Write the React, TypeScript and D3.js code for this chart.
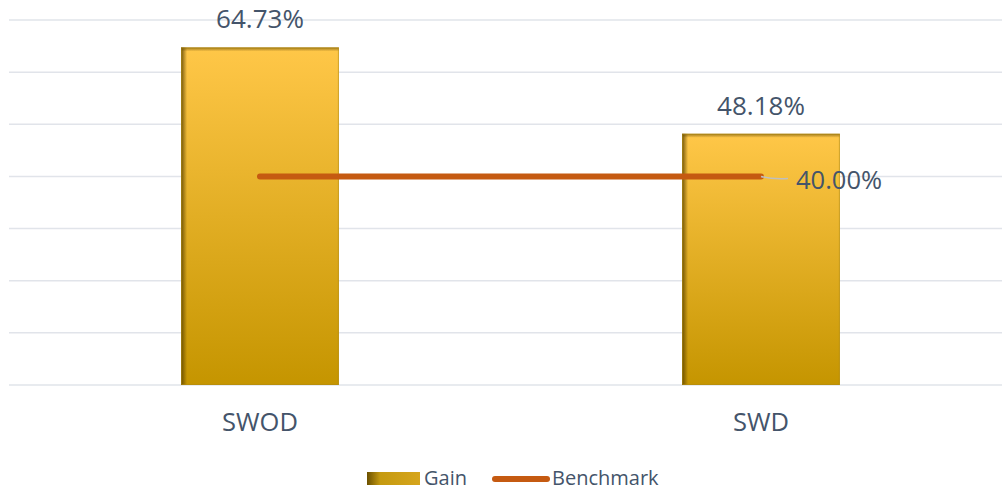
import React from "react";
import * as d3 from "d3";

const categories = ["SWOD", "SWD"];
const gainValues = [64.73, 48.18];
const benchmarkValues = [40, 40];
const yTicks = [0, 10, 20, 30, 40, 50, 60, 70];
const legendLabels = ["Gain", "Benchmark"];

const W = 1002;
const H = 490;
const textColor = "#44546A";
const font = "'Open Sans', 'Noto Sans', sans-serif";

export default function App() {
  const x = d3
    .scaleBand<string>()
    .domain(categories)
    .range([9.5, 1011.5])
    .paddingInner(0.685)
    .paddingOuter(0.3425);
  const y = d3.scaleLinear().domain([0, 70]).range([385, 20]);
  const bw = x.bandwidth();
  const cx = (c: string) => (x(c) ?? 0) + bw / 2;

  const line = d3
    .line<number>()
    .x((_, i) => cx(categories[i]))
    .y((d) => y(d));

  const lastX = cx(categories[1]);
  const lastY = y(benchmarkValues[1]);

  return (
    <svg
      width={W}
      height={H}
      style={{ position: "absolute", left: 0, top: 0, background: "#fff" }}
    >
      <defs>
        <linearGradient id="barFill" x1="0" y1="0" x2="0" y2="1">
          <stop offset="0" stopColor="#FFC748" />
          <stop offset="1" stopColor="#C59500" />
        </linearGradient>
        <linearGradient id="leftShade" x1="0" y1="0" x2="1" y2="0">
          <stop offset="0" stopColor="#5a4200" stopOpacity="0.85" />
          <stop offset="1" stopColor="#5a4200" stopOpacity="0" />
        </linearGradient>
        <linearGradient id="topShade" x1="0" y1="0" x2="0" y2="1">
          <stop offset="0" stopColor="#5a4200" stopOpacity="0.6" />
          <stop offset="1" stopColor="#5a4200" stopOpacity="0" />
        </linearGradient>
        <linearGradient id="legendFill" x1="0" y1="0" x2="1" y2="0">
          <stop offset="0" stopColor="#6b5000" />
          <stop offset="0.25" stopColor="#C59A10" />
          <stop offset="1" stopColor="#D6A51C" />
        </linearGradient>
      </defs>

      {yTicks.map((t) => (
        <line
          key={t}
          x1={9}
          x2={W}
          y1={y(t)}
          y2={y(t)}
          stroke="#E1E4EA"
          strokeWidth={1.5}
        />
      ))}

      {categories.map((c, i) => {
        const bx = x(c) ?? 0;
        const by = y(gainValues[i]);
        const bh = y(0) - by;
        return (
          <g key={c}>
            <rect x={bx} y={by} width={bw} height={bh} fill="url(#barFill)" />
            <rect x={bx} y={by} width={6} height={bh} fill="url(#leftShade)" />
            <rect x={bx} y={by} width={bw} height={4} fill="url(#topShade)" />
            <rect
              x={bx + 0.5}
              y={by + 0.5}
              width={bw - 1}
              height={bh - 1}
              fill="none"
              stroke="#B08A10"
              strokeOpacity={0.6}
              strokeWidth={1}
            />
            <text
              x={cx(c)}
              y={by - 19}
              textAnchor="middle"
              fontFamily={font}
              fontSize={26}
              fill={textColor}
            >
              {gainValues[i].toFixed(2)}%
            </text>
            <text
              x={cx(c)}
              y={431}
              textAnchor="middle"
              fontFamily={font}
              fontSize={25.5}
              fill={textColor}
            >
              {c}
            </text>
          </g>
        );
      })}

      <path
        d={line(benchmarkValues) ?? ""}
        fill="none"
        stroke="#C55A11"
        strokeWidth={6}
        strokeLinecap="round"
      />
      <path
        d={`M${lastX},${lastY} Q${lastX + 12},${lastY + 3} ${lastX + 27},${lastY + 2}`}
        fill="none"
        stroke="#BFBFBF"
        strokeWidth={1.5}
      />
      <text
        x={lastX + 35}
        y={lastY + 13}
        fontFamily={font}
        fontSize={25.5}
        fill={textColor}
      >
        {benchmarkValues[1].toFixed(2)}%
      </text>

      <g fontFamily={font} fontSize={20} fill={textColor}>
        <rect x={367} y={472} width={53} height={13} fill="url(#legendFill)" />
        <text x={424} y={484.5}>
          {legendLabels[0]}
        </text>
        <line
          x1={495}
          x2={547}
          y1={479}
          y2={479}
          stroke="#C55A11"
          strokeWidth={6}
          strokeLinecap="round"
        />
        <text x={552} y={484.5}>
          {legendLabels[1]}
        </text>
      </g>
    </svg>
  );
}
